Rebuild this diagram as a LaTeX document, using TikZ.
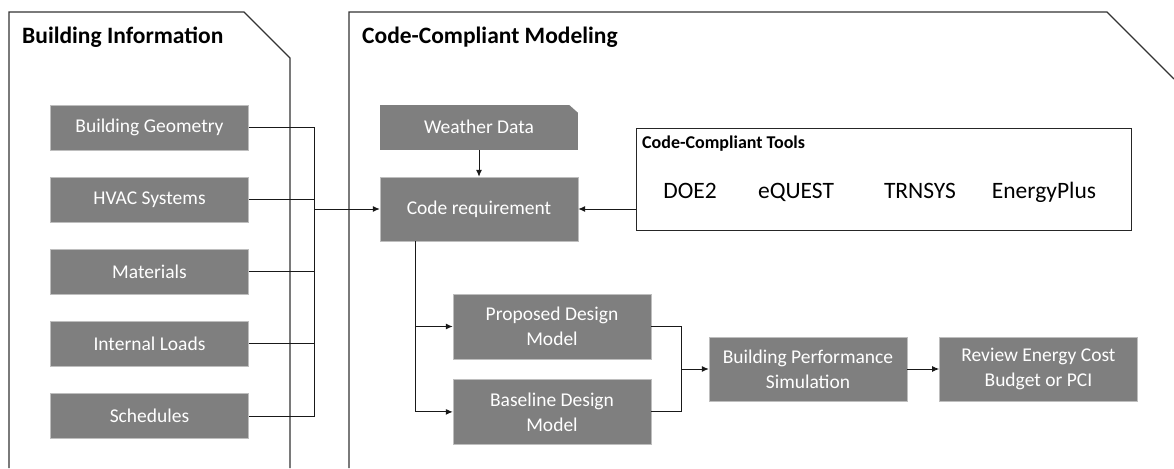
\documentclass[tikz,border=0pt]{standalone}
\usepackage{fontspec}
\setmainfont{Carlito}
\usepackage{tikz}
\usetikzlibrary{positioning,arrows.meta}
\definecolor{boxgrey}{RGB}{127,127,127}
\definecolor{boxedge}{RGB}{190,190,190}
\tikzset{
	greybox/.style={
		draw=boxedge, rectangle, fill=boxgrey,
		minimum width=198pt, minimum height=45pt,
		inner sep=0pt, text=white, align=center,
		font=\fontsize{19.5}{25}\selectfont
	},
	snipbox/.style={
		greybox, draw=none,
		path picture = {
			\fill[white]
			([xshift=-9pt]path picture bounding box.north east) --
			(path picture bounding box.north east) --
			([yshift=-8pt]path picture bounding box.north east) -- cycle;
		}
	},
	toolbox/.style={
		draw=black!85, rectangle, line width=1pt,
		minimum width=495pt, minimum height=102pt
	},
	toolname/.style={anchor=base, inner sep=0pt, font=\fontsize{23.5}{28}\selectfont},
	paneltitle/.style={anchor=west, inner sep=0pt, font=\bfseries\fontsize{23.5}{28}\selectfont},
	panel_line/.style={draw=black!80, line width=1.2pt},
	link/.style={draw=black!90, line width=1pt}
}

\begin{document}
\begin{tikzpicture}[x=1pt, y=-1pt, node distance=26.75pt, >={Latex[length=7pt,width=6pt]}]
				\useasboundingbox (0,0) rectangle (1174,468);
				% the two panels
				\draw[panel_line] (9,468) -- (9,12) -- (244,12) -- (290,58) -- (290,468);
				\draw[panel_line] (349,468) -- (349,12) -- (1107,12) -- (1174,79);
				\node[paneltitle] (infotitle)  at (22,37)  {Building Information};
				\node[paneltitle] (modeltitle) at (362,37) {Code-Compliant Modeling};
				% building inputs
				\node[greybox] (geo) at (149.5,127.5) {Building Geometry};
				\node[greybox] (hvac)  [below=of geo]   {HVAC Systems};
				\node[greybox] (mat)   [below=of hvac]  {Materials};
				\node[greybox] (loads) [below=of mat]   {Internal Loads};
				\node[greybox] (sched) [below=of loads] {Schedules};
				% modeling steps
				\node[greybox,minimum height=64pt] (codereq) at (479,209) {Code requirement};
				\node[snipbox] (weather) [above=27pt of codereq] {Weather Data};
				\node[greybox,minimum height=65pt] (proposed) at (552,326.5) {Proposed Design\\Model};
				\node[greybox,minimum height=65pt] (baseline) [below=20pt of proposed] {Baseline Design\\Model};
				\node[greybox,minimum height=64pt] (sim) at (808,369) {Building Performance\\Simulation};
				\node[greybox,minimum height=64pt] (review) [right=32pt of sim] {Review Energy Cost\\Budget or PCI};
				% tools
				\node[toolbox] (tools) at (883.5,179) {};
				\node[anchor=west, inner sep=0pt, font=\bfseries\fontsize{18}{21}\selectfont] (toolstitle) at (642,144) {Code-Compliant Tools};
				\node[toolname] (doe)    at (690,198)  {DOE2};
				\node[toolname] (equest) at (796,198)  {eQUEST};
				\node[toolname] (trnsys) at (920,198)  {TRNSYS};
				\node[toolname] (eplus)  at (1044,198) {EnergyPlus};
				% connectors
				\coordinate (bus) at (314,0);
				\coordinate (split) at (415,0);
				\coordinate (merge) at (681,0);
				\draw[link] (geo.east) -| (bus |- sched.east) -- (sched.east);
				\draw[link] (hvac.east) -- (bus |- hvac.east);
				\draw[link] (mat.east) -- (bus |- mat.east);
				\draw[link] (loads.east) -- (bus |- loads.east);
				\draw[link,->] (bus |- codereq.west) -- (codereq.west);
				\draw[link,->] (weather) -- (codereq);
				\draw[link,->] (tools.west |- codereq.east) -- (codereq.east);
				\draw[link,->] (split |- codereq.south) |- (proposed.west);
				\draw[link,->] (split |- codereq.south) |- (baseline.west);
				\draw[link] (proposed.east) -| (merge |- baseline.east) -- (baseline.east);
				\draw[link,->] (merge |- sim.west) -- (sim.west);
				\draw[link,->] (sim) -- (review);
			\end{tikzpicture}
\end{document}
